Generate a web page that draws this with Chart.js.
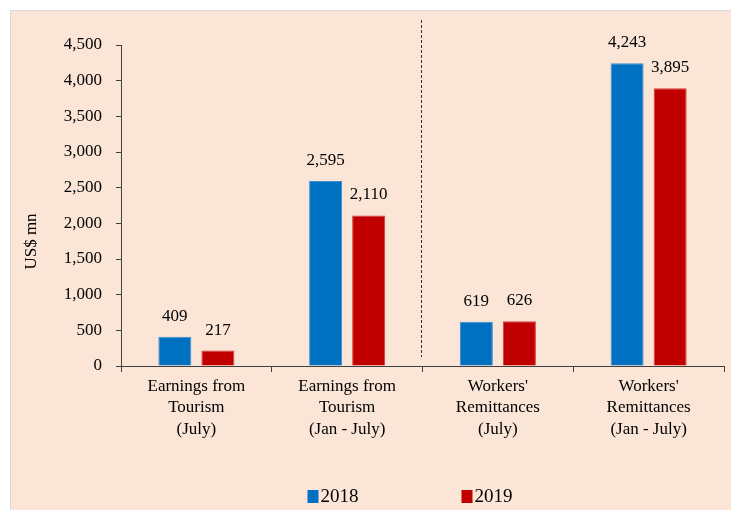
<!DOCTYPE html>
<html><head><meta charset="utf-8">
<script src="https://cdn.jsdelivr.net/npm/chart.js@4.4.0/dist/chart.umd.min.js"></script>
<style>html,body{margin:0;padding:0;background:#fff;}</style>
</head><body>
<canvas id="c" width="731" height="510" style="display:block;width:731px;height:510px"></canvas>
<script>
const categories = [
  ["Earnings from", "Tourism", "(July)"],
  ["Earnings from", "Tourism", "(Jan - July)"],
  ["Workers'", "Remittances", "(July)"],
  ["Workers'", "Remittances", "(Jan - July)"]
];
const seriesLabels = ["2018", "2019"];
const values2018 = [409, 2595, 619, 4243];
const values2019 = [217, 2110, 626, 3895];
const yMin = 0, yMax = 4500, yStep = 500;
const yTitle = "US$ mn";

const FONT = '"Liberation Serif", "Times New Roman", serif';
const AXIS = '#404040';

const panelPlugin = {
  id: 'panel',
  beforeDraw(chart) {
    const ctx = chart.ctx;
    ctx.save();
    ctx.fillStyle = '#ffffff';
    ctx.fillRect(0, 0, chart.width, chart.height);
    ctx.fillStyle = '#FBE5D6';
    ctx.fillRect(11, 11, chart.width - 11, chart.height - 11);
    ctx.strokeStyle = '#D9D9D9';
    ctx.lineWidth = 1;
    ctx.strokeRect(10.5, 10.5, chart.width, chart.height);
    ctx.restore();
  }
};

const extrasPlugin = {
  id: 'extras',
  afterDatasetsDraw(chart) {
    const ctx = chart.ctx;
    ctx.save();
    ctx.font = '17px ' + FONT;
    ctx.fillStyle = '#000';
    ctx.textAlign = 'center';
    ctx.textBaseline = 'alphabetic';
    chart.data.datasets.forEach((ds, di) => {
      chart.getDatasetMeta(di).data.forEach((bar, i) => {
        ctx.fillText(ds.data[i].toLocaleString('en-US'), bar.x, bar.y - 16);
      });
    });
    // divider
    const xs = chart.scales.x, ys = chart.scales.y;
    const dx = Math.round((xs.getPixelForValue(1) + xs.getPixelForValue(2)) / 2) - 1.5;
    ctx.strokeStyle = '#333';
    ctx.lineWidth = 1;
    ctx.setLineDash([3, 2]);
    ctx.beginPath();
    ctx.moveTo(dx, chart.chartArea.top - 25);
    ctx.lineTo(dx, ys.getPixelForValue(0) - 9);
    ctx.stroke();
    ctx.setLineDash([]);
    // y title
    ctx.save();
    ctx.translate(32, (chart.chartArea.top + chart.chartArea.bottom) / 2 + 36);
    ctx.rotate(-Math.PI / 2);
    ctx.textBaseline = 'middle';
    ctx.fillText(yTitle, 0, 0);
    ctx.restore();
    // legend
    const cx = (chart.chartArea.left + chart.chartArea.right) / 2 - 12;
    const step = 154;
    const y = 496;
    ctx.font = '19px ' + FONT;
    chart.data.datasets.forEach((ds, di) => {
      const bx = cx - 103 + di * step;
      ctx.fillStyle = ds.backgroundColor;
      ctx.fillRect(bx, y - 6, 11, 13);
      ctx.fillStyle = '#000';
      ctx.textAlign = 'left';
      ctx.textBaseline = 'middle';
      ctx.fillText(ds.label, bx + 13, y + 1);
    });
    ctx.restore();
  }
};

new Chart(document.getElementById('c'), {
  type: 'bar',
  data: {
    labels: categories,
    datasets: [
      { label: seriesLabels[0], data: values2018, backgroundColor: '#0070C0', borderColor: '#3C8FD0', borderWidth: 1 },
      { label: seriesLabels[1], data: values2019, backgroundColor: '#C00000', borderColor: '#D43C3C', borderWidth: 1 }
    ]
  },
  options: {
    responsive: false,
    devicePixelRatio: 1,
    animation: false,
    datasets: { bar: { categoryPercentage: 0.571, barPercentage: 0.767 } },
    layout: { padding: { left: 11, right: 7, top: 45, bottom: 64 } },
    plugins: { legend: { display: false }, tooltip: { enabled: false } },
    scales: {
      x: {
        grid: { display: true, drawOnChartArea: false, drawTicks: true, tickLength: 6, color: AXIS, offset: true },
        border: { display: true, color: AXIS },
        ticks: { font: { family: FONT, size: 17, lineHeight: 1.25 }, color: '#000', padding: 4, maxRotation: 0, autoSkip: false },
        afterFit(s) { s.height = 80; }
      },
      y: {
        min: yMin, max: yMax,
        grid: { display: true, drawOnChartArea: false, drawTicks: true, tickLength: 5, color: AXIS },
        border: { display: true, color: AXIS },
        ticks: { stepSize: yStep, font: { family: FONT, size: 17 }, color: '#000', padding: 14,
          callback: v => v.toLocaleString('en-US') },
        afterFit(s) { s.width = 110; }
      }
    }
  },
  plugins: [panelPlugin, extrasPlugin]
});
</script>
</body></html>
